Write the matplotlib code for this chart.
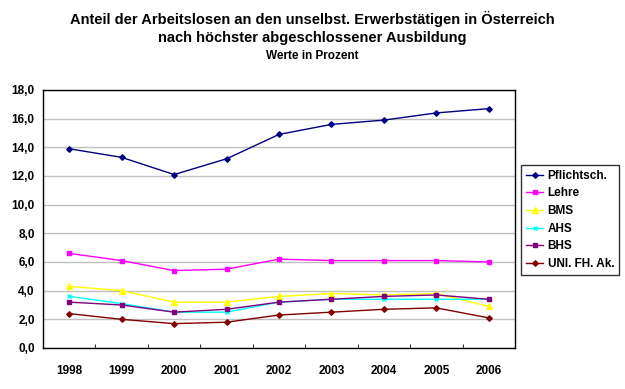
import numpy as np
import matplotlib.pyplot as plt

plt.rcParams['font.family'] = ['Liberation Sans', 'DejaVu Sans']
plt.rcParams['font.weight'] = 'bold'

years = ['1998', '1999', '2000', '2001', '2002', '2003', '2004', '2005', '2006']

# Werte in Prozent
pflichtsch = [13.9, 13.3, 12.1, 13.2, 14.9, 15.6, 15.9, 16.4, 16.7]
lehre = [6.6, 6.1, 5.4, 5.5, 6.2, 6.1, 6.1, 6.1, 6.0]
bms = [4.3, 4.0, 3.2, 3.2, 3.6, 3.8, 3.7, 3.8, 2.9]
ahs = [3.6, 3.1, 2.5, 2.5, 3.2, 3.4, 3.4, 3.4, 3.4]
bhs = [3.2, 3.0, 2.5, 2.7, 3.2, 3.4, 3.6, 3.7, 3.4]
uni = [2.4, 2.0, 1.7, 1.8, 2.3, 2.5, 2.7, 2.8, 2.1]

series = [
    ('Pflichtsch.', pflichtsch, '#000080', 'D', 2.8),
    ('Lehre', lehre, '#FF00FF', 's', 3.5),
    ('BMS', bms, '#FFFF00', '^', 4),
    ('AHS', ahs, '#00FFFF', 'x', 3.5),
    ('BHS', bhs, '#800080', 's', 2.8),
    ('UNI. FH. Ak.', uni, '#800000', 'D', 2.8),
]

fig = plt.figure(figsize=(6.25, 3.89), dpi=100)
ax = fig.add_axes([43 / 625, 1 - 348 / 389, 472 / 625, 258 / 389])

x = np.arange(len(years))
for name, vals, col, mk, ms in series:
    ax.plot(x, vals, color=col, marker=mk, markersize=ms, linewidth=1.0,
            markeredgewidth=1.0, label=name)

ax.set_xlim(-0.5, len(years) - 0.5)
ax.set_ylim(0, 18)
yt = np.arange(0, 19, 2)
ax.set_yticks(yt)
ax.set_yticklabels([('%.1f' % v).replace('.', ',') for v in yt])
ax.set_xticks(x)
ax.set_xticklabels(years)
ax.set_xticks(np.arange(0.5, len(years) - 1, 1), minor=True)
ax.tick_params(axis='x', which='major', length=0, pad=12, labelsize=8.5)
ax.tick_params(axis='x', which='minor', length=3, direction='in')
ax.tick_params(axis='y', length=0, pad=6, labelsize=8.5)
for lbl in ax.get_xticklabels() + ax.get_yticklabels():
    lbl.set_fontweight('bold')

ax.yaxis.grid(True, color='#c0c0c0', linewidth=1)
ax.set_axisbelow(True)
for s in ax.spines.values():
    s.set_color('black')
    s.set_linewidth(1)

leg = fig.legend(loc='upper left', bbox_to_anchor=(521 / 625, 1 - 165 / 389),
                 frameon=True, fancybox=False, fontsize=8.5, handlelength=1.5,
                 handletextpad=0.35, borderpad=0.4, labelspacing=0.48,
                 borderaxespad=0)
leg.get_frame().set_edgecolor('black')
leg.get_frame().set_linewidth(1)
for t in leg.get_texts():
    t.set_fontweight('bold')

fig.text(0.5, 1 - 19 / 389, 'Anteil der Arbeitslosen an den unselbst. Erwerbstätigen in Österreich',
         ha='center', va='center', fontsize=10.5, fontweight='bold')
fig.text(0.5, 1 - 38 / 389, 'nach höchster abgeschlossener Ausbildung',
         ha='center', va='center', fontsize=10.5, fontweight='bold')
fig.text(0.5, 1 - 56 / 389, 'Werte in Prozent',
         ha='center', va='center', fontsize=8.5, fontweight='bold')

fig.savefig('out.png', dpi=100)
